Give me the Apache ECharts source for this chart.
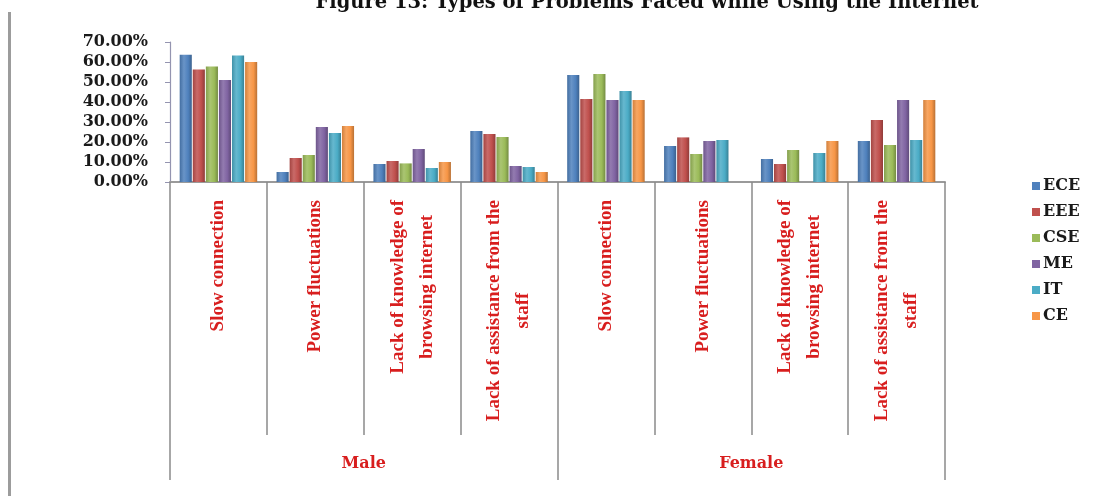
<!DOCTYPE html>
<html>
<head>
<meta charset="utf-8">
<script src="https://cdn.jsdelivr.net/npm/echarts@6/dist/echarts.min.js"></script>
<style>
  html, body { margin: 0; padding: 0; background: #ffffff; }
  #chart { width: 1112px; height: 496px; }
</style>
</head>
<body>
<div id="chart"></div>
<script>
// Problems reported, repeated once for each gender group
const problems = [
  'Slow connection',
  'Power fluctuations',
  'Lack of knowledge of\nbrowsing internet',
  'Lack of assistance from the\nstaff'
];
const genders = ['Male', 'Female'];
const categories = genders.flatMap(() => problems);

const departments = ['ECE', 'EEE', 'CSE', 'ME', 'IT', 'CE'];

// Percentages: 4 male problems followed by 4 female problems
const ECE = [63.6, 5.0, 9.0, 25.5, 53.5, 18.0, 11.5, 20.5];
const EEE = [56.2, 12.0, 10.5, 24.0, 41.5, 22.3, 9.0, 31.0];
const CSE = [57.8, 13.5, 9.3, 22.5, 54.0, 14.0, 16.0, 18.5];
const ME  = [51.0, 27.5, 16.5, 8.0, 41.0, 20.5, 0.0, 41.0];
const IT  = [63.2, 24.5, 7.0, 7.5, 45.5, 21.0, 14.5, 21.0];
const CE  = [60.0, 28.0, 10.0, 5.0, 41.0, 0.0, 20.5, 41.0];

const seriesValues = [ECE, EEE, CSE, ME, IT, CE];
const palette = ['#4F81BD', '#C0504D', '#9BBB59', '#8064A2', '#4BACC6', '#F79646'];

const titleText = 'Figure 13: Types of Problems Faced while Using the Internet';

function shade(hex, amt) {
  const n = parseInt(hex.slice(1), 16);
  let r = (n >> 16) & 255, g = (n >> 8) & 255, b = n & 255;
  const f = c => Math.max(0, Math.min(255, Math.round(amt >= 0 ? c + (255 - c) * amt : c * (1 + amt))));
  return 'rgb(' + f(r) + ',' + f(g) + ',' + f(b) + ')';
}

const chart = echarts.init(document.getElementById('chart'), null, { renderer: 'canvas' });

const series = departments.map((name, i) => ({
  name: name,
  type: 'bar',
  data: seriesValues[i],
  barCategoryGap: '20%',
  barGap: '8%',
  itemStyle: {
    color: new echarts.graphic.LinearGradient(0, 0, 1, 0, [
      { offset: 0, color: shade(palette[i], -0.15) },
      { offset: 0.35, color: shade(palette[i], 0.15) },
      { offset: 0.7, color: palette[i] },
      { offset: 1, color: shade(palette[i], -0.25) }
    ])
  },
  emphasis: { disabled: true }
}));

const redLabel = '#D81E1E';

chart.setOption({
  backgroundColor: '#ffffff',
  animation: false,
  grid: { left: 170, right: 167, top: 42, bottom: 314, containLabel: false },
  legend: {
    orient: 'vertical',
    left: 1027,
    top: 173,
    icon: 'rect',
    itemWidth: 8,
    itemHeight: 8,
    itemGap: 10,
    data: departments.map((d, i) => ({ name: d, itemStyle: { color: palette[i] } })),
    textStyle: { fontFamily: 'DejaVu Serif', fontWeight: 'bold', fontSize: 16, color: '#1a1a1a', padding: [0, 0, 0, -2] }
  },
  xAxis: [
    {
      type: 'category',
      data: categories,
      position: 'bottom',
      axisLine: { show: true, lineStyle: { color: '#9a9a9a', width: 2 } },
      axisTick: { show: true, interval: 0, length: 253, lineStyle: { color: '#8a8a8a', width: 1.5 } },
      axisLabel: {
        interval: 0,
        rotate: 90,
        margin: 18,
        formatter: v => v.split('\n').map(s => '{c|' + s + '}').join('\n'),
        rich: {
          c: {
            align: 'center',
            fontFamily: 'Liberation Serif',
            fontWeight: 'bold',
            fontSize: 19,
            lineHeight: 29,
            color: redLabel
          }
        }
      }
    },
    {
      type: 'category',
      data: genders,
      position: 'bottom',
      axisLine: { show: false },
      axisTick: { show: true, length: 298, lineStyle: { color: '#8a8a8a', width: 1.5 } },
      axisLabel: {
        margin: 274,
        fontFamily: 'DejaVu Serif',
        fontWeight: 'bold',
        fontSize: 16,
        color: redLabel
      }
    }
  ],
  yAxis: {
    type: 'value',
    min: 0,
    max: 70,
    interval: 10,
    axisLine: { show: true, lineStyle: { color: '#9494b0', width: 1.2 } },
    axisTick: { show: true, length: 5, lineStyle: { color: '#9494b0' } },
    splitLine: { show: false },
    axisLabel: {
      margin: 22,
      formatter: v => v.toFixed(2) + '%',
      fontFamily: 'DejaVu Serif',
      fontWeight: 'bold',
      fontSize: 16,
      color: '#1a1a1a'
    }
  },
  graphic: [
    {
      type: 'rect',
      shape: { x: 8, y: 12, width: 3, height: 484 },
      style: { fill: '#9c9c9c' },
      silent: true
    },
    {
      type: 'text',
      x: 647,
      y: 13,
      style: {
        text: titleText,
        fontFamily: 'DejaVu Serif',
        fontWeight: 'bold',
        fontSize: 19.5,
        fill: '#111111',
        align: 'center',
        verticalAlign: 'bottom',
        textAlign: 'center',
        textVerticalAlign: 'bottom'
      },
      silent: true
    }
  ],
  series: series
});
</script>
</body>
</html>
